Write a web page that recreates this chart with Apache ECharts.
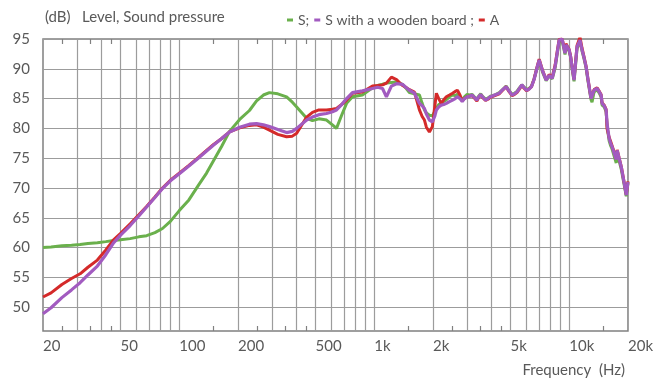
<!DOCTYPE html>
<html>
<head>
<meta charset="utf-8">
<script src="https://cdn.jsdelivr.net/npm/echarts@6/dist/echarts.min.js"></script>
<style>html,body{margin:0;padding:0;background:#fff}#c{width:656px;height:378px}</style>
</head>
<body>
<div id="c"></div>
<script>
// Frequency grid (Hz) shared by the three curves
const freqHz = [20,22,25,28,31,34,38,42,46,50,56,62,68,75,82,90,100,112,125,138,150,165,181,204,229,249,270,290,320,355,380,400,450,482,520,569,610,640,680,721,773,869,979,1040,1102,1154,1224,1300,1394,1450,1514,1607,1704,1760,1808,1850,1917,1985,2040,2082,2140,2204,2270,2342,2430,2520,2600,2669,2750,2825,2900,2993,3080,3170,3260,3358,3430,3513,3610,3720,3830,3940,4150,4376,4550,4745,4900,5090,5240,5390,5550,5710,5880,6050,6220,6400,6600,6848,7010,7300,7610,7880,8174,8470,8700,8872,9190,9350,9510,9620,9800,9970,10150,10330,10580,10960,11350,11620,11900,12200,12480,12930,13080,13400,13890,14200,14560,14730,15100,15450,15630,16010,16300,16590,17000,17410,17610,18000,18480,19150,19600,20000];
// S (green)
const levelS = [60.0,60.1,60.3,60.4,60.5,60.7,60.8,61.0,61.2,61.3,61.5,61.8,62.0,62.5,63.2,64.4,66.2,68.0,70.4,72.5,74.6,77.0,79.5,81.5,83.0,84.6,85.6,86.0,85.8,85.3,84.4,83.6,81.7,81.3,81.6,81.4,80.6,80.0,82.2,84.2,85.3,85.6,86.8,87.2,87.4,87.6,87.7,87.8,87.4,86.8,86.0,85.8,85.6,84.2,83.1,82.6,82.2,82.1,82.8,83.4,84.0,84.2,84.5,84.8,85.3,85.6,85.5,85.7,85.4,84.8,85.3,85.7,85.6,85.7,85.3,84.9,85.4,85.8,85.3,84.9,85.1,85.4,85.6,86.0,86.5,87.1,86.4,85.7,85.9,86.2,86.8,87.3,86.9,86.5,86.7,87.1,88.3,90.2,91.3,89.4,88.0,88.8,88.3,90.2,92.8,94.4,94.7,93.6,92.4,93.8,93.8,93.0,92.0,90.1,87.9,93.4,94.6,93.0,91.7,90.1,87.9,84.8,84.4,86.1,86.5,86.0,85.3,83.9,83.6,82.8,80.4,77.9,77.1,76.5,75.3,74.2,75.8,74.6,73.1,70.4,68.6,70.8];
// S with a wooden board (purple)
const levelBoard = [48.9,49.9,51.6,52.9,54.1,55.4,56.9,58.8,60.8,62.1,63.7,65.3,66.8,68.4,69.9,71.2,72.4,73.7,75.0,76.2,77.2,78.3,79.4,80.2,80.7,80.8,80.6,80.3,79.8,79.3,79.5,80.0,81.4,81.9,82.3,82.5,82.8,83.1,84.0,85.0,86.0,86.3,86.7,86.9,86.7,85.3,87.1,87.5,87.4,86.9,86.4,85.9,84.2,83.8,83.35,82.4,81.4,81.1,82.0,83.1,83.6,83.9,84.0,84.2,84.5,84.75,85.0,85.3,85.0,84.5,85.0,85.3,85.4,85.6,85.2,84.75,85.3,85.7,85.2,84.75,85.0,85.3,85.6,85.9,86.5,87.0,86.3,85.6,85.8,86.1,86.7,87.3,86.8,86.4,86.6,87.0,88.2,90.3,91.5,89.6,88.1,88.9,88.4,90.5,93.0,94.8,95.0,93.8,92.6,94.0,94.0,93.2,92.1,90.3,88.1,93.7,94.8,93.2,91.9,90.3,88.1,85.0,84.7,86.4,86.7,86.2,85.6,84.2,83.8,83.1,80.8,78.3,77.5,76.9,75.8,74.8,76.3,75.0,73.5,70.7,68.8,71.0];
// A (red)
const levelA = [51.7,52.4,53.8,54.8,55.6,56.7,57.9,59.6,61.3,62.4,64.0,65.5,66.9,68.5,70.0,71.3,72.5,73.8,75.1,76.3,77.3,78.3,79.4,80.1,80.5,80.6,80.2,79.7,79.0,78.6,78.7,79.2,81.9,82.7,83.1,83.1,83.2,83.35,84.0,84.75,85.9,86.1,87.1,87.2,87.3,87.6,88.6,88.2,87.2,86.9,86.5,86.1,83.1,82.0,81.4,80.2,79.4,80.3,83.5,85.9,85.0,84.2,84.8,85.3,85.6,85.9,86.2,86.4,85.6,84.6,85.0,85.3,85.4,85.5,85.1,84.6,85.2,85.6,85.1,84.7,84.9,85.2,85.5,85.8,86.4,87.0,86.2,85.5,85.7,86.0,86.6,87.2,86.7,86.3,86.6,87.0,88.3,90.4,91.6,89.7,88.2,89.0,88.6,90.7,93.2,94.9,95.0,94.0,92.8,94.2,94.0,93.3,92.2,90.4,88.3,93.9,95.3,93.5,92.0,90.4,88.2,85.1,84.9,86.5,86.8,86.3,85.7,84.3,83.9,83.2,79.9,78.5,77.8,78.0,76.0,74.9,76.4,75.1,73.6,70.8,68.9,71.1];

const seriesNames = ['S;', 'S with a wooden board ;', 'A'];
const tickFreqs = [20,50,100,200,500,1000,2000,5000,10000,20000];
const tickLabels = ['20','50','100','200','500','1k','2k','5k','10k','20k'];
const gridFreqs = [30,40,50,60,70,80,90,100,200,300,400,500,600,700,800,900,1000,2000,3000,4000,5000,6000,7000,8000,9000,10000];
const minorFreqs = [25,35,45,150,250,350,450,1500,2500,3500,4500,15000];
const yTicks = [50,55,60,65,70,75,80,85,90,95];

const L = Math.log10;
const TXT = '#595959';
const FONT = 'Lato';
const GRIDC = '#9c9c9c';

function labelFor(v) {
  let best = 0, bd = 1e9;
  tickFreqs.forEach((f, i) => { const d = Math.abs(L(f) - v); if (d < bd) { bd = d; best = i; } });
  return tickLabels[best];
}
const decoAxis = (pos, extra) => Object.assign({
  type: 'value', min: L(20), max: L(20000), position: pos,
  axisLine: {show: false}, axisLabel: {show: false}, splitLine: {show: false},
  axisTick: {show: false}
}, extra);

const chart = echarts.init(document.getElementById('c'), null, {renderer: 'canvas'});
chart.setOption({
  animation: false,
  textStyle: {fontFamily: FONT},
  title: [
    {text: '(dB)   Level, Sound pressure', left: 40, top: 5,
     textStyle: {fontSize: 15, fontWeight: 'normal', color: TXT, fontFamily: FONT}},
    {text: 'Frequency  (Hz)', right: 26, top: 358,
     textStyle: {fontSize: 15, fontWeight: 'normal', color: TXT, fontFamily: FONT}}
  ],
  legend: {
    left: 282, top: 8, icon: 'rect', itemWidth: 6, itemHeight: 3, itemGap: 5,
    textStyle: {fontSize: 14, color: TXT, fontFamily: FONT},
    data: seriesNames
  },
  grid: {left: 43, right: 27, top: 39, bottom: 47, show: true, borderColor: '#808080', borderWidth: 1.5},
  xAxis: [
    {type: 'log', logBase: 10, min: 20, max: 20000, show: false},
    decoAxis('bottom', {
      axisTick: {show: false, customValues: gridFreqs.map(L)},
      splitLine: {show: true, lineStyle: {color: GRIDC, width: 1.2}},
      axisLabel: {show: true, customValues: tickFreqs.map(L), formatter: labelFor, align: 'left',
                  margin: 8, fontSize: 15, color: TXT, fontFamily: FONT}
    }),
    decoAxis('bottom', {axisTick: {show: true, inside: true, length: 5, customValues: minorFreqs.map(L),
                                   lineStyle: {color: '#808080', width: 1.2}}}),
    decoAxis('top', {axisTick: {show: true, inside: true, length: 5, customValues: minorFreqs.map(L),
                                lineStyle: {color: '#808080', width: 1.2}}})
  ],
  yAxis: {
    type: 'value', min: 46, max: 95,
    axisLine: {show: false},
    axisTick: {show: false, customValues: yTicks},
    axisLabel: {customValues: yTicks, margin: 13, fontSize: 15, color: TXT, fontFamily: FONT},
    splitLine: {show: true, lineStyle: {color: GRIDC, width: 1.2}}
  },
  series: [
    {name: seriesNames[0], type: 'line', xAxisIndex: 0, showSymbol: false, color: '#6AB04C',
     lineStyle: {width: 3}, data: freqHz.map((f, i) => [f, levelS[i]])},
    {name: seriesNames[2], type: 'line', xAxisIndex: 0, showSymbol: false, color: '#D42A2A',
     lineStyle: {width: 3}, data: freqHz.map((f, i) => [f, levelA[i]])},
    {name: seriesNames[1], type: 'line', xAxisIndex: 0, showSymbol: false, color: '#A25BC0',
     lineStyle: {width: 3.2}, data: freqHz.map((f, i) => [f, levelBoard[i]])}
  ]
});
</script>
</body>
</html>
